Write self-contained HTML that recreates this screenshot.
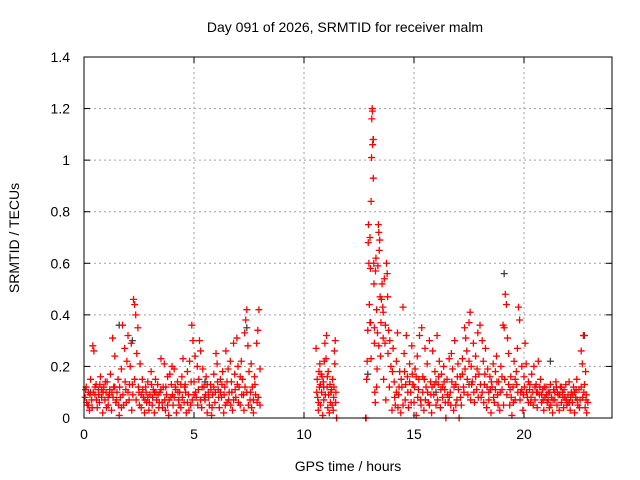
<!DOCTYPE html>
<html><head><meta charset="utf-8"><style>
body{margin:0;background:#fff;}
svg{display:block;font-family:"Liberation Sans",sans-serif;}
</style></head><body>
<svg id="chart" width="640" height="480">
<rect width="640" height="480" fill="#fff"/>
<text x="345" y="32" text-anchor="middle" font-size="14" fill="#000">Day 091 of 2026, SRMTID for receiver malm</text>
<text x="348" y="471" text-anchor="middle" font-size="14" fill="#000">GPS time / hours</text>
<text transform="translate(19,238) rotate(-90)" text-anchor="middle" font-size="14" fill="#000">SRMTID / TECUs</text>
<g id="grid"></g>
<g id="axes"></g>
<g id="gray-series"></g>
<g id="red-series"></g>
<rect x="84" y="57" width="528" height="361" fill="none" stroke="#000" stroke-width="1"/>
</svg>
<script>
const xTicks = [0, 5, 10, 15, 20];
const yTicks = [0, 0.2, 0.4, 0.6, 0.8, 1, 1.2, 1.4];
const yTickLabels = ["0", "0.2", "0.4", "0.6", "0.8", "1", "1.2", "1.4"];
const grayPoints = [[13.15,1.08],[19.1,0.56],[22.75,0.32],[0.3,0.1],[13.0,0.37],[17.5,0.13],[1.6,0.36],[2.2,0.3],[12.9,0.17],[21.2,0.22],[5.5,0.14],[16.0,0.1],[7.4,0.35],[10.9,0.12]];
const redPoints = [
[0.05,.08],[0.1,.12],[0.15,.05],[0.2,.1],[0.25,.03],[0.3,.15],[0.35,.07],[0.4,.28],[0.45,.26],[0.5,.09],[0.55,.13],[0.6,.04],[0.65,.11],[0.7,.06],[0.75,.16],[0.8,.08],[0.85,.02],[0.9,.12],[0.95,.07],[1.0,.1],
[1.05,.14],[1.1,.05],[1.15,.09],[1.2,.17],[1.25,.03],[1.3,.31],[1.35,.12],[1.4,.24],[1.45,.06],[1.5,.1],[1.55,.15],[1.6,.01],[1.65,.08],[1.7,.19],[1.75,.36],[1.8,.05],[1.85,.27],[1.9,.11],[1.95,.22],[2.0,.32],
[2.05,.07],[2.1,.2],[2.15,.29],[2.2,.13],[2.25,.46],[2.3,.44],[2.35,.4],[2.4,.25],[2.45,.35],[2.5,.1],[2.55,.21],[2.6,.04],[2.65,.15],[2.7,.08],[2.75,.02],[2.8,.12],[2.85,.06],[2.9,.14],[2.95,.03],[3.0,.09],
[3.05,.18],[3.1,.05],[3.15,.11],[3.2,.02],[3.25,.15],[3.3,.07],[3.35,.13],[3.4,.04],[3.45,.1],[3.5,.23],[3.55,.06],[3.6,.12],[3.65,.21],[3.7,.03],[3.75,.09],[3.8,.16],[3.85,.01],[3.9,.17],[3.95,.08],[4.0,.2],
[4.05,.05],[4.1,.19],[4.15,.12],[4.2,.02],[4.25,.14],[4.3,.07],[4.35,.1],[4.4,.04],[4.45,.16],[4.5,.23],[4.55,.06],[4.6,.13],[4.65,.02],[4.7,.18],[4.75,.09],[4.8,.22],[4.85,.05],[4.9,.36],[4.95,.3],[5.0,.14],
[5.05,.24],[5.1,.08],[5.15,.2],[5.2,.11],[5.25,.3],[5.3,.26],[5.35,.04],[5.4,.19],[5.45,.12],[5.5,.07],[5.55,.16],[5.6,.02],[5.65,.1],[5.7,.05],[5.75,.13],[5.8,.01],[5.85,.09],[5.9,.17],[5.95,.06],[6.0,.25],
[6.05,.21],[6.1,.11],[6.15,.04],[6.2,.15],[6.25,.08],[6.3,.18],[6.35,.02],[6.4,.12],[6.45,.26],[6.5,.06],[6.55,.19],[6.6,.1],[6.65,.22],[6.7,.14],[6.75,.03],[6.8,.29],[6.85,.17],[6.9,.08],[6.95,.31],[7.0,.2],
[7.05,.12],[7.1,.05],[7.15,.22],[7.2,.15],[7.25,.09],[7.3,.33],[7.35,.38],[7.4,.42],[7.45,.28],[7.5,.18],[7.55,.07],[7.6,.21],[7.65,.12],[7.7,.02],[7.75,.16],[7.8,.09],[7.85,.29],[7.9,.34],[7.95,.42],[8.0,.19],
[0.12,.06],[0.42,.1],[0.72,.13],[1.02,.04],[1.32,.08],[1.62,.12],[1.92,.06],[2.22,.09],[2.52,.05],[2.82,.1],[3.12,.08],[3.42,.06],[3.72,.12],[4.02,.09],[4.32,.05],[4.62,.1],[4.92,.07],[5.22,.15],[5.52,.09],[5.82,.04],[6.12,.08],[6.42,.05],[6.72,.1],[7.02,.06],[7.32,.12],[7.62,.04],[7.92,.08],
[0.27,.09],[0.57,.07],[0.87,.1],[1.17,.11],[1.47,.07],[1.77,.09],[2.07,.13],[2.37,.07],[2.67,.11],[2.97,.06],[3.27,.1],[3.57,.04],[3.87,.07],[4.17,.11],[4.47,.08],[4.77,.03],[5.07,.1],[5.37,.12],[5.67,.08],[5.97,.1],[6.27,.13],[6.57,.07],[6.87,.11],[7.17,.09],[7.47,.05],[7.77,.13],
[0.07,.11],[0.37,.04],[0.67,.09],[0.97,.14],[1.27,.1],[1.57,.05],[1.87,.14],[2.17,.03],[2.47,.12],[2.77,.07],[3.07,.13],[3.37,.09],[3.67,.07],[3.97,.13],[4.27,.1],[4.57,.12],[4.87,.14],[5.17,.05],[5.47,.08],[5.77,.11],[6.07,.14],[6.37,.09],[6.67,.05],[6.97,.13],[7.27,.03],[7.57,.1],[7.87,.06],
[0.2,.05],[0.5,.12],[0.8,.11],[1.1,.08],[1.4,.12],[1.7,.04],[2.0,.1],[2.3,.15],[2.6,.09],[2.9,.08],[3.2,.1],[3.5,.11],[3.8,.05],[4.1,.08],[4.4,.13],[4.7,.06],[5.0,.09],[5.3,.07],[5.6,.13],[5.9,.12],[6.2,.1],[6.5,.14],[6.8,.07],[7.1,.16],[7.4,.1],[7.7,.07],[8.0,.05],
[10.55,.27],[10.6,.15],[10.62,.08],[10.65,.03],[10.7,.12],[10.72,.21],[10.75,.05],[10.78,.17],[10.8,.1],[10.85,.01],[10.88,.14],[10.9,.07],[10.95,.29],[11.0,.23],[11.02,.32],[11.05,.12],[11.08,.04],[11.1,.18],[11.12,.09],[11.15,.02],[11.2,.06],[11.25,.11],[11.3,.15],[11.33,.03],[11.35,.08],[11.38,.26],[11.4,.21],[11.42,.3],[11.45,.1],[11.48,0],[10.68,.18],[10.92,.22],[11.18,.13],[11.28,.05],
[10.58,.1],[10.66,.06],[10.74,.13],[10.82,.16],[10.97,.09],[11.06,.16],[11.22,.1],[11.36,.12],[11.44,.06],
[12.8,0],[12.82,0],[12.85,.15],[12.87,.22],[12.9,.34],[12.92,.68],[12.93,.75],[12.95,.6],[12.97,.44],[13.0,.7],[13.02,.58],[13.03,.37],[13.05,.84],[13.07,1.01],[13.08,1.16],[13.1,1.2],[13.11,1.19],[13.12,1.06],[13.14,1.08],[13.15,.93],[13.17,.6],[13.18,.52],[13.2,.29],[13.22,.1],[13.24,.06],[13.25,.57],[13.27,.62],[13.3,.42],[13.32,.19],[13.34,.33],[13.36,.59],[13.38,.75],[13.4,.72],[13.42,.65],[13.44,.69],[13.46,.47],[13.48,.24],[13.5,.37],[13.52,.46],[13.55,.52],[13.58,.43],[13.6,.41],[13.62,.15],[13.65,.54],[13.68,.29],[13.7,.36],[13.72,.07],[13.75,.6],[13.78,.56],[13.8,.47],[13.82,.25],[13.85,.34],[13.88,.12],[13.9,.3],[13.95,.2],[14.0,.03],[13.05,.23],[13.2,.35],[13.4,.28],[13.6,.31],[13.3,.12],
[14.05,.27],[14.1,.14],[14.15,.05],[14.2,.22],[14.25,.33],[14.3,.09],[14.35,.18],[14.4,.02],[14.45,.12],[14.5,.43],[14.55,.25],[14.6,.07],[14.65,.32],[14.7,.16],[14.75,.04],[14.8,.21],[14.85,.1],[14.9,.28],[14.95,.13],[15.0,.06],
[15.05,.19],[15.1,.01],[15.15,.24],[15.2,.11],[15.25,.32],[15.3,.07],[15.35,.35],[15.4,.16],[15.45,.03],[15.5,.27],[15.55,.12],[15.6,.21],[15.65,.06],[15.7,.3],[15.75,.14],[15.8,.02],[15.85,.26],[15.9,.09],[15.95,.18],[16.0,.05],
[16.05,.32],[16.1,.13],[16.15,.22],[16.2,.04],[16.25,.17],[16.3,.08],[16.35,.2],[16.4,.11],[16.45,0],[16.5,.15],[16.55,.06],[16.6,.23],[16.65,.1],[16.7,.25],[16.75,.19],[16.8,.03],[16.85,.3],[16.9,.13],[16.95,.07],[17.0,.21],
[17.05,0],[17.1,.16],[17.15,.05],[17.2,.23],[17.25,.12],[17.3,.35],[17.35,.31],[17.4,.26],[17.45,.09],[17.5,.37],[17.55,.41],[17.6,.2],[17.65,.14],[17.7,.29],[17.75,.06],[17.8,.24],[17.85,.11],[17.9,.33],[17.95,.17],[18.0,.36],
[18.05,.08],[18.1,.3],[18.15,.22],[18.2,.13],[18.25,.27],[18.3,.04],[18.35,.19],[18.4,.1],[18.45,.16],[18.5,.02],[18.55,.12],[18.6,.21],[18.65,.06],[18.7,.18],[18.75,.24],[18.8,.09],[18.85,.14],[18.9,.03],[18.95,.2],[19.0,.11],
[19.05,.36],[19.1,.35],[19.15,.48],[19.2,.44],[19.25,.31],[19.3,.25],[19.35,.05],[19.4,.16],[19.45,.01],[19.5,.12],[19.55,.22],[19.6,.07],[19.65,.18],[19.7,.27],[19.75,.43],[19.8,.38],[19.85,.1],[19.9,.2],[19.95,.03],[20.0,.16],
[20.05,.29],[20.1,.21],[20.15,.08],[20.2,.14],[20.25,.11],[20.3,.06],[20.35,.17],[20.4,.1],[20.45,.2],[20.5,.07],[20.55,.13],[20.6,.04],[20.65,.22],[20.7,.09],[20.75,.15],[20.8,.06],[20.85,.11],[20.9,.03],[20.95,.08],[21.0,.12],
[21.05,.06],[21.1,.1],[21.15,.04],[21.2,.13],[21.25,.08],[21.3,.02],[21.35,.11],[21.4,.07],[21.45,.14],[21.5,.05],[21.55,.09],[21.6,.03],[21.65,.12],[21.7,.06],[21.75,.1],[21.8,.04],[21.85,.08],[21.9,.13],[21.95,.05],[22.0,.09],
[22.05,.14],[22.1,.03],[22.15,.1],[22.2,.06],[22.25,.12],[22.3,.02],[22.35,.08],[22.4,.15],[22.45,.05],[22.5,.11],[22.55,.07],[22.6,.26],[22.65,.21],[22.7,.32],[22.72,.32],[22.75,.13],[22.78,.04],[22.8,.18],[22.83,.09],[22.85,.02],
[14.12,.08],[14.42,.15],[14.72,.1],[15.02,.12],[15.32,.05],[15.62,.1],[15.92,.13],[16.22,.11],[16.52,.09],[16.82,.12],[17.12,.08],[17.42,.15],[17.72,.1],[18.02,.13],[18.32,.12],[18.62,.08],[18.92,.1],[19.22,.09],[19.52,.06],[19.82,.07],[20.12,.1],[20.42,.05],[20.72,.12],[21.02,.09],[21.32,.07],[21.62,.09],[21.92,.07],[22.22,.09],[22.52,.04],[22.82,.07],
[14.27,.04],[14.57,.18],[14.87,.06],[15.17,.08],[15.47,.15],[15.77,.09],[16.07,.07],[16.37,.14],[16.67,.05],[16.97,.16],[17.27,.1],[17.57,.07],[17.87,.19],[18.17,.06],[18.47,.11],[18.77,.14],[19.07,.05],[19.37,.11],[19.67,.13],[19.97,.09],[20.27,.13],[20.57,.1],[20.87,.07],[21.17,.1],[21.47,.12],[21.77,.08],[22.07,.06],[22.37,.11],[22.67,.08],
[14.02,.18],[14.32,.12],[14.62,.13],[14.92,.17],[15.22,.15],[15.52,.07],[15.82,.12],[16.12,.16],[16.42,.06],[16.72,.14],[17.02,.11],[17.32,.19],[17.62,.13],[17.92,.08],[18.22,.17],[18.52,.14],[18.82,.05],[19.12,.15],[19.42,.08],[19.72,.1],[20.02,.12],[20.32,.08],[20.62,.1],[20.92,.12],[21.22,.05],[21.52,.1],[21.82,.11],[22.12,.08],[22.42,.07],[22.72,.1],
[14.2,.1],[14.5,.05],[14.8,.14],[15.1,.16],[15.4,.1],[15.7,.05],[16.0,.14],[16.3,.12],[16.6,.08],[16.9,.05],[17.2,.17],[17.5,.22],[17.8,.16],[18.1,.1],[18.4,.07],[18.7,.11],[19.0,.16],[19.3,.13],[19.6,.15],[19.9,.11],[20.2,.06],[20.5,.12],[20.8,.09],[21.1,.07],[21.4,.1],[21.7,.12],[22.0,.06],[22.3,.1],[22.6,.12],[22.9,.06]
];
const X0=84, X1=612, Y0=418, Y1=57, XMAX=24, YMAX=1.4;
function xs(v){return X0+(X1-X0)*v/XMAX;}
function ys(v){return Y0-(Y0-Y1)*v/YMAX;}
const NS="http://www.w3.org/2000/svg";
function mk(tag,attrs,parent){const e=document.createElementNS(NS,tag);for(const k in attrs)e.setAttribute(k,attrs[k]);parent.appendChild(e);return e;}
const grid=document.getElementById('grid'), axes=document.getElementById('axes');
xTicks.forEach(t=>{
  const x=xs(t);
  if(t>0){const g=mk('line',{x1:x,x2:x,y1:Y1,y2:Y0,stroke:'#a0a0a0','stroke-dasharray':'2,3','stroke-width':1},grid);
  
  }
  const a=mk('line',{x1:x,x2:x,y1:Y0,y2:Y0-6,stroke:'#000'},axes);
  
  
  const b=mk('line',{x1:x,x2:x,y1:Y1,y2:Y1+6,stroke:'#000'},axes);
  
  
  const l=mk('text',{x:x,y:Y0+21,'text-anchor':'middle','font-size':14,fill:'#000'},axes);
  l.textContent=String(t);
  
  
});
yTicks.forEach((t,i)=>{
  const y=ys(t);
  if(t>0&&t<YMAX){const g=mk('line',{x1:X0,x2:X1,y1:y,y2:y,stroke:'#a0a0a0','stroke-dasharray':'2,3','stroke-width':1},grid);
  
  }
  const a=mk('line',{x1:X0,x2:X0+6,y1:y,y2:y,stroke:'#000'},axes);
  
  
  const b=mk('line',{x1:X1,x2:X1-6,y1:y,y2:y,stroke:'#000'},axes);
  
  
  const l=mk('text',{x:X0-14,y:y+5,'text-anchor':'end','font-size':14,fill:'#000'},axes);
  l.textContent=yTickLabels[i];
  
  
});
function drawPoints(pts,color,parentId,name){
  const p=document.getElementById(parentId);
  pts.forEach(d=>{
    const x=xs(d[0]), y=ys(d[1]);
    const m=mk('path',{d:`M${x-3.5},${y}H${x+3.5}M${x},${y-3.5}V${y+3.5}`,stroke:color,'stroke-width':1.3,fill:'none'},p);
    
    
  });
}
drawPoints(grayPoints,'#404040','gray-series','gray-point');
drawPoints(redPoints,'#ff0000','red-series','red-point');
</script>
</body></html>
